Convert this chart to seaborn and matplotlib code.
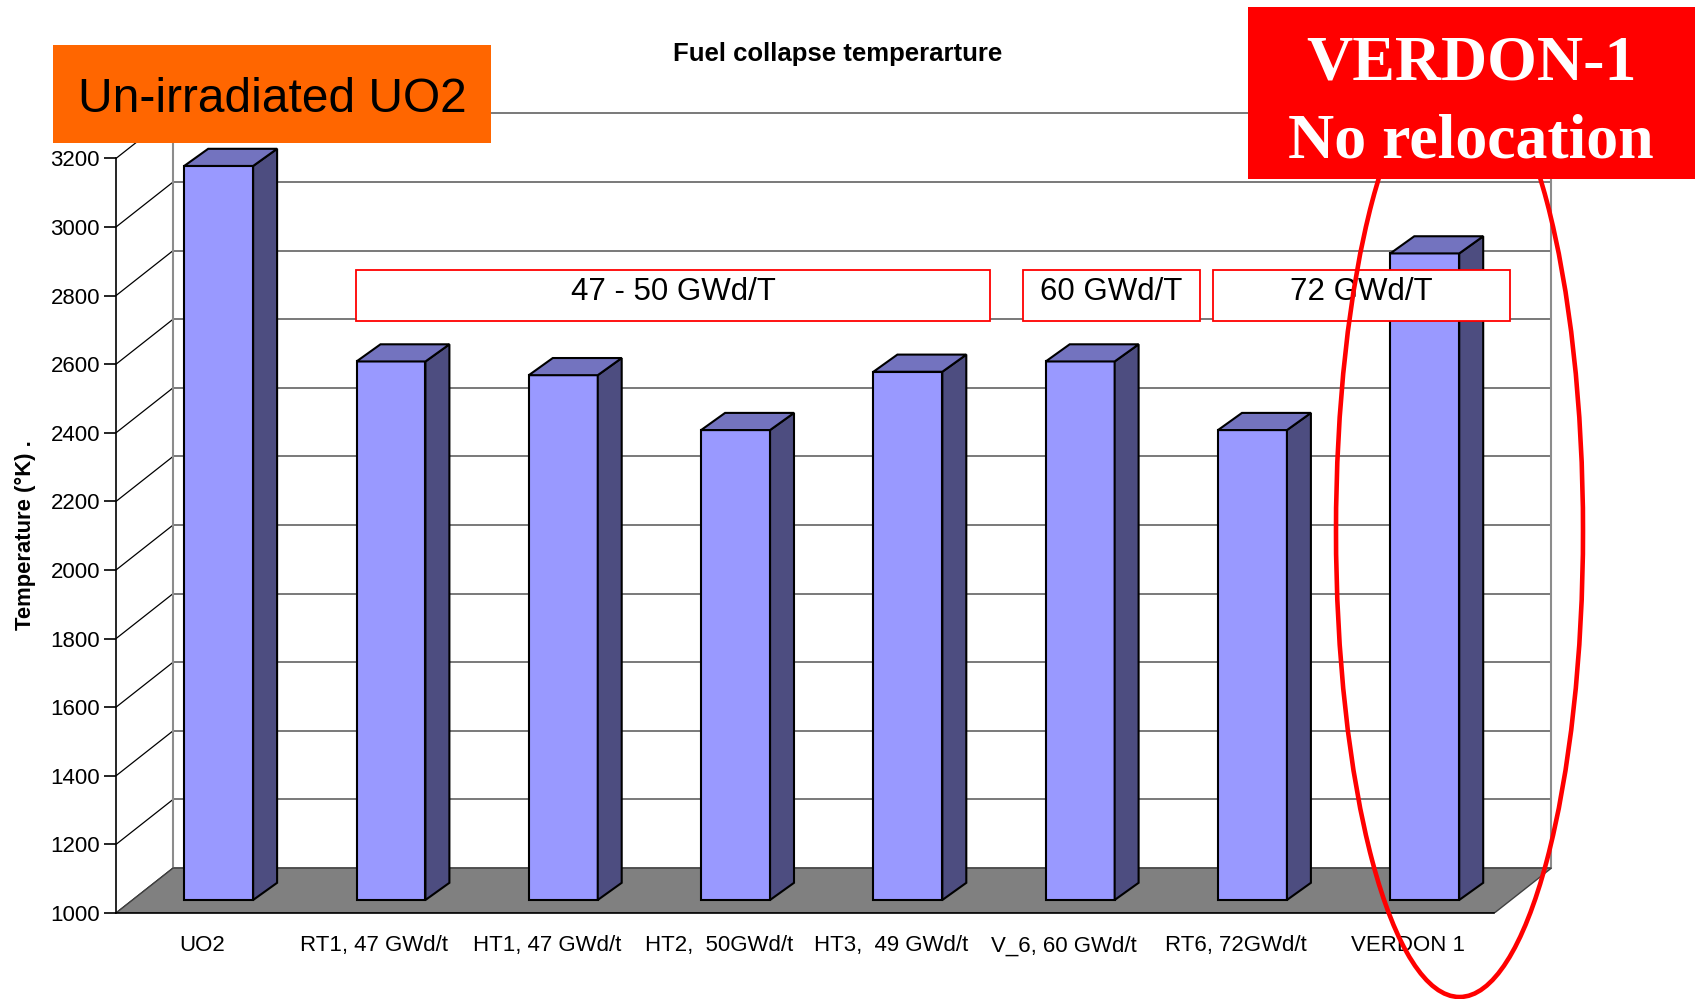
import matplotlib
matplotlib.use("Agg")
import matplotlib.pyplot as plt
from matplotlib.patches import Polygon, Rectangle, Ellipse
import seaborn as sns
import pandas as pd

categories = ["UO2", "RT1, 47 GWd/t", "HT1, 47 GWd/t", "HT2,  50GWd/t",
              "HT3,  49 GWd/t", "V_6, 60 GWd/t", "RT6, 72GWd/t", "VERDON 1"]
temperatures = [3140, 2570, 2530, 2370, 2540, 2570, 2370, 2885]
y_ticks = [1000, 1200, 1400, 1600, 1800, 2000, 2200, 2400, 2600, 2800, 3000, 3200]
burnup_labels = ["47 - 50 GWd/T", "60 GWd/T", "72 GWd/T"]
title = "Fuel collapse temperarture"
y_label = "Temperature (°K) ."

BASE = 1000
W, H = 1700, 999

# oblique "3D" offsets, in data units (category, kelvin)
FRONT_DX, FRONT_DY = -0.096, -38   # front axis plane relative to bar fronts
DEPTH_DX, DEPTH_DY = 0.139, 50     # depth of each bar
WALL_DX, WALL_DY = 0.235, 93       # back wall relative to bar fronts

FACE = "#9999FF"
SIDE = "#4D4D80"
TOP = "#7373BF"

sns.set_style("white")
plt.rcParams["font.family"] = ["Liberation Sans", "DejaVu Sans"]
plt.rcParams.update({"text.color": "black", "xtick.color": "black",
                     "ytick.color": "black", "axes.labelcolor": "black"})

fig = plt.figure(figsize=(W / 100, H / 100), dpi=100)
ax = fig.add_axes([116 / W, 1 - 913 / H, 1444 / W, (913 - 108) / H])

n = len(categories)
df = pd.DataFrame({"sample": categories,
                   "rise": [t - BASE for t in temperatures]})
sns.barplot(data=df, x="sample", y="rise", bottom=BASE, width=0.4,
            color=FACE, saturation=1, edgecolor="black", linewidth=1.5,
            errorbar=None, zorder=3, ax=ax)
bars = list(ax.patches)

# side and top faces of every bar
for bar in bars:
    x, y = bar.get_x(), bar.get_y()
    w, h = bar.get_width(), bar.get_height()
    top = y + h
    side = [(x + w, y), (x + w + DEPTH_DX, y + DEPTH_DY),
            (x + w + DEPTH_DX, top + DEPTH_DY), (x + w, top)]
    lid = [(x, top), (x + DEPTH_DX, top + DEPTH_DY),
           (x + w + DEPTH_DX, top + DEPTH_DY), (x + w, top)]
    ax.add_patch(Polygon(side, closed=True, facecolor=SIDE, edgecolor="black",
                         linewidth=1.5, zorder=3))
    ax.add_patch(Polygon(lid, closed=True, facecolor=TOP, edgecolor="black",
                         linewidth=1.5, zorder=3))

x0 = -0.5 + FRONT_DX
wx0 = -0.5 + WALL_DX
wx1 = n - 0.5 + WALL_DX

# back wall grid, left wall diagonals
for t in y_ticks:
    ax.plot([wx0, wx1], [t + WALL_DY] * 2, color="#6E6E6E", lw=1.3, zorder=1)
    ax.plot([x0, wx0], [t + FRONT_DY, t + WALL_DY], color="black", lw=0.9,
            zorder=1)
for wx in (wx0, wx1):
    ax.plot([wx, wx], [BASE + WALL_DY, y_ticks[-1] + WALL_DY],
            color="#8C8C8C", lw=1.5, zorder=1)

# floor
floor = [(x0, BASE + FRONT_DY), (x0 + n, BASE + FRONT_DY),
         (wx1, BASE + WALL_DY), (wx0, BASE + WALL_DY)]
ax.add_patch(Polygon(floor, closed=True, facecolor="#808080",
                     edgecolor="#404040", linewidth=1, zorder=2))

ax.set_xlim(x0, x0 + 1444 / 172.3)
ax.set_ylim(BASE + FRONT_DY, BASE + FRONT_DY + (913 - 108) / 0.343)
ax.grid(False)
ax.set_xlabel("")
ax.set_ylabel("")

sns.despine(ax=ax)
for s in ("left", "bottom"):
    ax.spines[s].set_color("black")
    ax.spines[s].set_linewidth(1.2)
ax.spines["left"].set_bounds(BASE + FRONT_DY, y_ticks[-1] + FRONT_DY)
ax.spines["bottom"].set_bounds(x0, x0 + n)

ax.set_yticks([t + FRONT_DY for t in y_ticks], labels=[str(t) for t in y_ticks])
ax.set_xticks([i + FRONT_DX for i in range(n)], labels=categories)
ax.set_xticks([x0 + k for k in range(n + 1)], minor=True)
ax.tick_params(axis="x", which="major", length=0, pad=16, labelsize=16)
ax.tick_params(axis="x", which="minor", length=9.4, width=1.2,
               direction="out", color="black")
ax.tick_params(axis="y", length=8.6, width=1.2, pad=3, labelsize=16,
               direction="out", color="black", left=True)

fig.text(838 / W, 1 - 54 / H, title, ha="center", va="center",
         fontsize=18.5, fontweight="bold")
fig.text(25 / W, 1 - 535 / H, y_label, ha="center", va="center",
         rotation=90, fontsize=15.8, fontweight="bold")


def box(px0, py0, px1, py1, **kw):
    r = Rectangle((px0 / W, 1 - py1 / H), (px1 - px0) / W, (py1 - py0) / H,
                  transform=fig.transFigure, **kw)
    fig.add_artist(r)


def label(px, py, s, **kw):
    fig.text(px / W, 1 - py / H, s, ha="center", va="baseline", **kw)


# burnup range boxes
spans = [(356, 990), (1023, 1200), (1213, 1510)]
for (a, b), s in zip(spans, burnup_labels):
    box(a, 270, b, 321, facecolor="white", edgecolor="red", linewidth=1.3,
        zorder=2)
    label((a + b) / 2, 300, s, fontsize=22.5, zorder=3)

# orange tag
box(53, 45, 491, 143, facecolor="#FF6600", edgecolor="none", zorder=2)
label(272, 112, "Un-irradiated UO2", fontsize=34.5, zorder=3)

# ellipse around VERDON 1
fig.add_artist(Ellipse((1459.5 / W, 1 - 531 / H), 247 / W, 932 / H,
                       transform=fig.transFigure, facecolor="none",
                       edgecolor="red", linewidth=3.3, zorder=4))

# red tag
box(1248, 7, 1695, 179, facecolor="red", edgecolor="none", zorder=5)
for txt, base in (("VERDON-1", 80), ("No relocation", 157)):
    label(1471, base, txt, fontsize=46, color="white", fontweight="bold",
          family=["Liberation Serif", "DejaVu Serif"], zorder=6)

fig.savefig("out.png", dpi=100)
